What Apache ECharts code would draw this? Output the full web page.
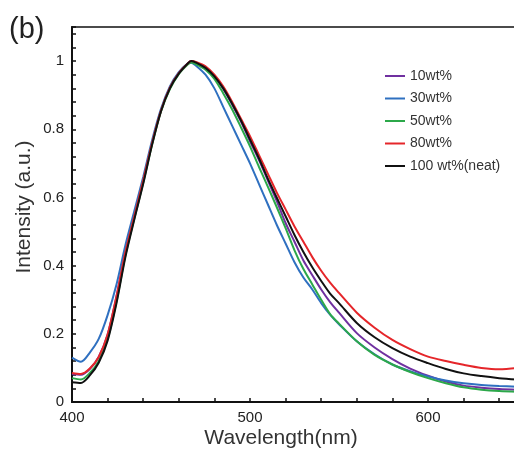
<!DOCTYPE html>
<html>
<head>
<meta charset="utf-8">
<script src="https://cdn.jsdelivr.net/npm/echarts@6/dist/echarts.min.js"></script>
<style>html,body{margin:0;padding:0;background:#fff;overflow:hidden;width:514px;height:452px;}#c{width:520px;height:452px;}</style>
</head>
<body>
<div id="c"></div>
<script>
var wavelengths = [400,405,410,415,420,425,430,435,440,445,450,455,460,465,467,470,475,480,485,490,495,500,505,510,515,520,525,530,535,540,545,550,560,570,580,590,600,610,620,630,640,650];
var s10  = [0.082,0.080,0.097,0.132,0.198,0.310,0.440,0.545,0.650,0.760,0.855,0.922,0.965,0.993,1.000,0.995,0.980,0.955,0.918,0.872,0.822,0.765,0.710,0.650,0.590,0.525,0.470,0.415,0.372,0.330,0.293,0.262,0.202,0.160,0.126,0.098,0.077,0.060,0.048,0.042,0.038,0.036];
var s30  = [0.130,0.118,0.145,0.185,0.255,0.345,0.460,0.560,0.660,0.768,0.860,0.926,0.968,0.993,0.995,0.985,0.960,0.920,0.865,0.810,0.755,0.700,0.640,0.580,0.520,0.465,0.410,0.365,0.330,0.290,0.256,0.228,0.178,0.140,0.110,0.090,0.075,0.063,0.055,0.050,0.047,0.045];
var s50  = [0.070,0.066,0.085,0.120,0.185,0.295,0.430,0.538,0.643,0.755,0.852,0.918,0.962,0.990,0.996,0.990,0.975,0.948,0.905,0.858,0.805,0.750,0.690,0.632,0.572,0.510,0.445,0.390,0.345,0.300,0.258,0.230,0.178,0.138,0.110,0.088,0.070,0.055,0.043,0.036,0.032,0.030];
var s80  = [0.085,0.082,0.098,0.132,0.198,0.310,0.440,0.545,0.650,0.760,0.855,0.922,0.965,0.993,1.000,0.997,0.985,0.960,0.925,0.880,0.830,0.780,0.725,0.670,0.615,0.565,0.515,0.470,0.425,0.385,0.350,0.320,0.262,0.218,0.182,0.155,0.133,0.120,0.109,0.100,0.096,0.100];
var s100 = [0.058,0.056,0.078,0.115,0.180,0.290,0.425,0.535,0.640,0.755,0.853,0.920,0.963,0.993,1.000,0.995,0.980,0.955,0.920,0.875,0.825,0.770,0.715,0.655,0.600,0.545,0.490,0.440,0.395,0.355,0.318,0.290,0.232,0.190,0.158,0.133,0.114,0.097,0.084,0.076,0.070,0.066];
var seriesNames = ['10wt%','30wt%','50wt%','80wt%','100 wt%(neat)'];
var seriesColors = ['#7030a0','#2f70c0','#2ca84a','#e5262a','#111111'];
var xTickLabels = [400,500,600];
var yTickLabels = [0,0.2,0.4,0.6,0.8,1];

function pairs(ys){ return wavelengths.map(function(x,i){ return [x, ys[i]]; }); }
var allData = [s10, s30, s50, s80, s100];
var FONT = '"Liberation Sans", Arial, sans-serif';

var chart = echarts.init(document.getElementById('c'), null, {renderer:'canvas'});
chart.setOption({
  animation:false,
  backgroundColor:'#fff',
  grid:{left:72, top:27, right:3, bottom:50, show:true, borderColor:'#111', borderWidth:1.5, backgroundColor:'transparent'},
  legend:{
    orient:'vertical', left:385, top:69, padding:0, itemWidth:20, itemHeight:2, itemGap:8.5, icon:'rect',
    textStyle:{fontFamily:FONT, fontSize:14, color:'#333', lineHeight:14},
    data:seriesNames
  },
  xAxis:{
    type:'value', min:400, max:650, interval:20,
    axisLine:{show:true, onZero:false, lineStyle:{color:'#111', width:2}},
    axisTick:{show:true, inside:true, length:4, lineStyle:{color:'#111', width:1.5}},
    splitLine:{show:false},
    axisLabel:{fontFamily:FONT, fontSize:15, color:'#222', margin:8,
      formatter:function(v){ return xTickLabels.indexOf(v)>=0 ? String(v) : ''; }}
  },
  yAxis:{
    type:'value', min:0, max:1.1, interval:0.2,
    axisLine:{show:true, lineStyle:{color:'#111', width:2}},
    axisTick:{show:true, inside:true, length:4, lineStyle:{color:'#111', width:1.5}},
    minorTick:{show:true, splitNumber:5, length:4, lineStyle:{color:'#111', width:1.5}},
    splitLine:{show:false}, minorSplitLine:{show:false},
    axisLabel:{fontFamily:FONT, fontSize:15, color:'#222', margin:8,
      formatter:function(v){
        for (var i=0;i<yTickLabels.length;i++){ if (Math.abs(v-yTickLabels[i])<1e-6) return String(yTickLabels[i]); }
        return '';
      }}
  },
  graphic:[
    {type:'text', left:9, top:15, style:{text:'(b)', font:'29px '+FONT, fill:'#222'}},
    {type:'text', x:281, y:438, style:{text:'Wavelength(nm)', font:'21px '+FONT, fill:'#333', textAlign:'center', textVerticalAlign:'middle'}},
    {type:'text', x:24, y:207, rotation:Math.PI/2, style:{text:'Intensity (a.u.)', font:'21px '+FONT, fill:'#333', textAlign:'center', textVerticalAlign:'middle'}}
  ],
  series: allData.map(function(d,i){
    return {name:seriesNames[i], type:'line', data:pairs(d), smooth:0.3, showSymbol:false, symbol:'none',
      lineStyle:{color:seriesColors[i], width:2}, itemStyle:{color:seriesColors[i]}, z:2+i, clip:true};
  })
});
</script>
</body>
</html>
